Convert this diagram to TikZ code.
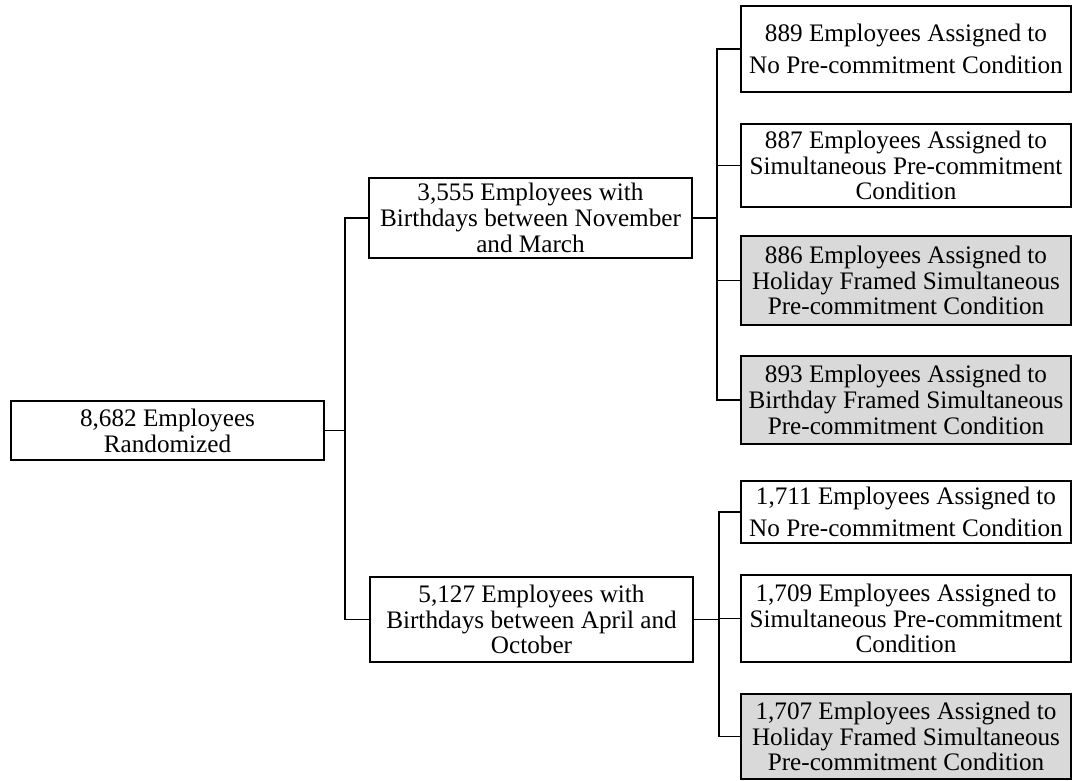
\documentclass[tikz,border=0pt]{standalone}
\usepackage{fontspec}
\setmainfont{Liberation Serif}
\definecolor{boxgrey}{RGB}{217,217,217}
\begin{document}
\begin{tikzpicture}[x=0.5pt,y=-0.5pt,
  box/.style={draw, line width=1pt, fill=white, align=center, inner sep=0pt,
              font=\fontsize{12.6}{12.9}\selectfont},
  widebox/.style={box, font=\fontsize{12.6}{16}\selectfont},
  shaded/.style={box, fill=boxgrey},
  rootsize/.style={minimum width=156.5pt},
  midsize/.style={minimum width=161.5pt},
  leafsize/.style={minimum width=165pt},
  link/.style={line width=0.6pt},
  stem/.style={line width=0.9pt}]
\useasboundingbox (0,0) rectangle (1082,781);

% first level
\node[box, rootsize, minimum height=29.5pt] (root) at (167.5,430.5)
  {8,682 Employees\\Randomized};

% second level
\node[box, midsize, minimum height=40pt] (mid1) at (530.5,218)
  {3,555 Employees with\\Birthdays between November\\and March};
\node[box, midsize, minimum height=42.5pt] (mid2) at (531.5,619.5)
  {5,127 Employees with\\Birthdays between April and\\October};

% treatment groups, November--March
\node[widebox, leafsize, minimum height=43pt] (r1) at (906,49)
  {889 Employees Assigned to\\No Pre-commitment Condition};
\node[box, leafsize, minimum height=41.5pt] (r2) at (906,165.5)
  {887 Employees Assigned to\\Simultaneous Pre-commitment\\Condition};
\node[shaded, leafsize, minimum height=44.5pt] (r3) at (906,280.5)
  {886 Employees Assigned to\\Holiday Framed Simultaneous\\Pre-commitment Condition};
\node[shaded, leafsize, minimum height=44pt] (r4) at (906,400)
  {893 Employees Assigned to\\Birthday Framed Simultaneous\\Pre-commitment Condition};

% treatment groups, April--October
\node[widebox, leafsize, minimum height=31pt] (r5) at (906,512)
  {1,711 Employees Assigned to\\No Pre-commitment Condition};
\node[box, leafsize, minimum height=43.5pt] (r6) at (906,618.5)
  {1,709 Employees Assigned to\\Simultaneous Pre-commitment\\Condition};
\node[shaded, leafsize, minimum height=42.5pt] (r7) at (906,736.5)
  {1,707 Employees Assigned to\\Holiday Framed Simultaneous\\Pre-commitment Condition};

% connectors
\draw[stem] (root.east) -- ++(20,0) coordinate (t0);
\draw[link] (t0) |- (mid1.west);
\draw[link] (t0) |- (mid2.west);

\draw[stem] (mid1.east) -- ++(24,0) coordinate (t1);
\foreach \n in {r1,r2,r3,r4} \draw[link] (t1) |- (\n.west);

\draw[stem] (mid2.east) -- ++(25,0) coordinate (t2);
\foreach \n in {r5,r6,r7} \draw[link] (t2) |- (\n.west);
\end{tikzpicture}
\end{document}
